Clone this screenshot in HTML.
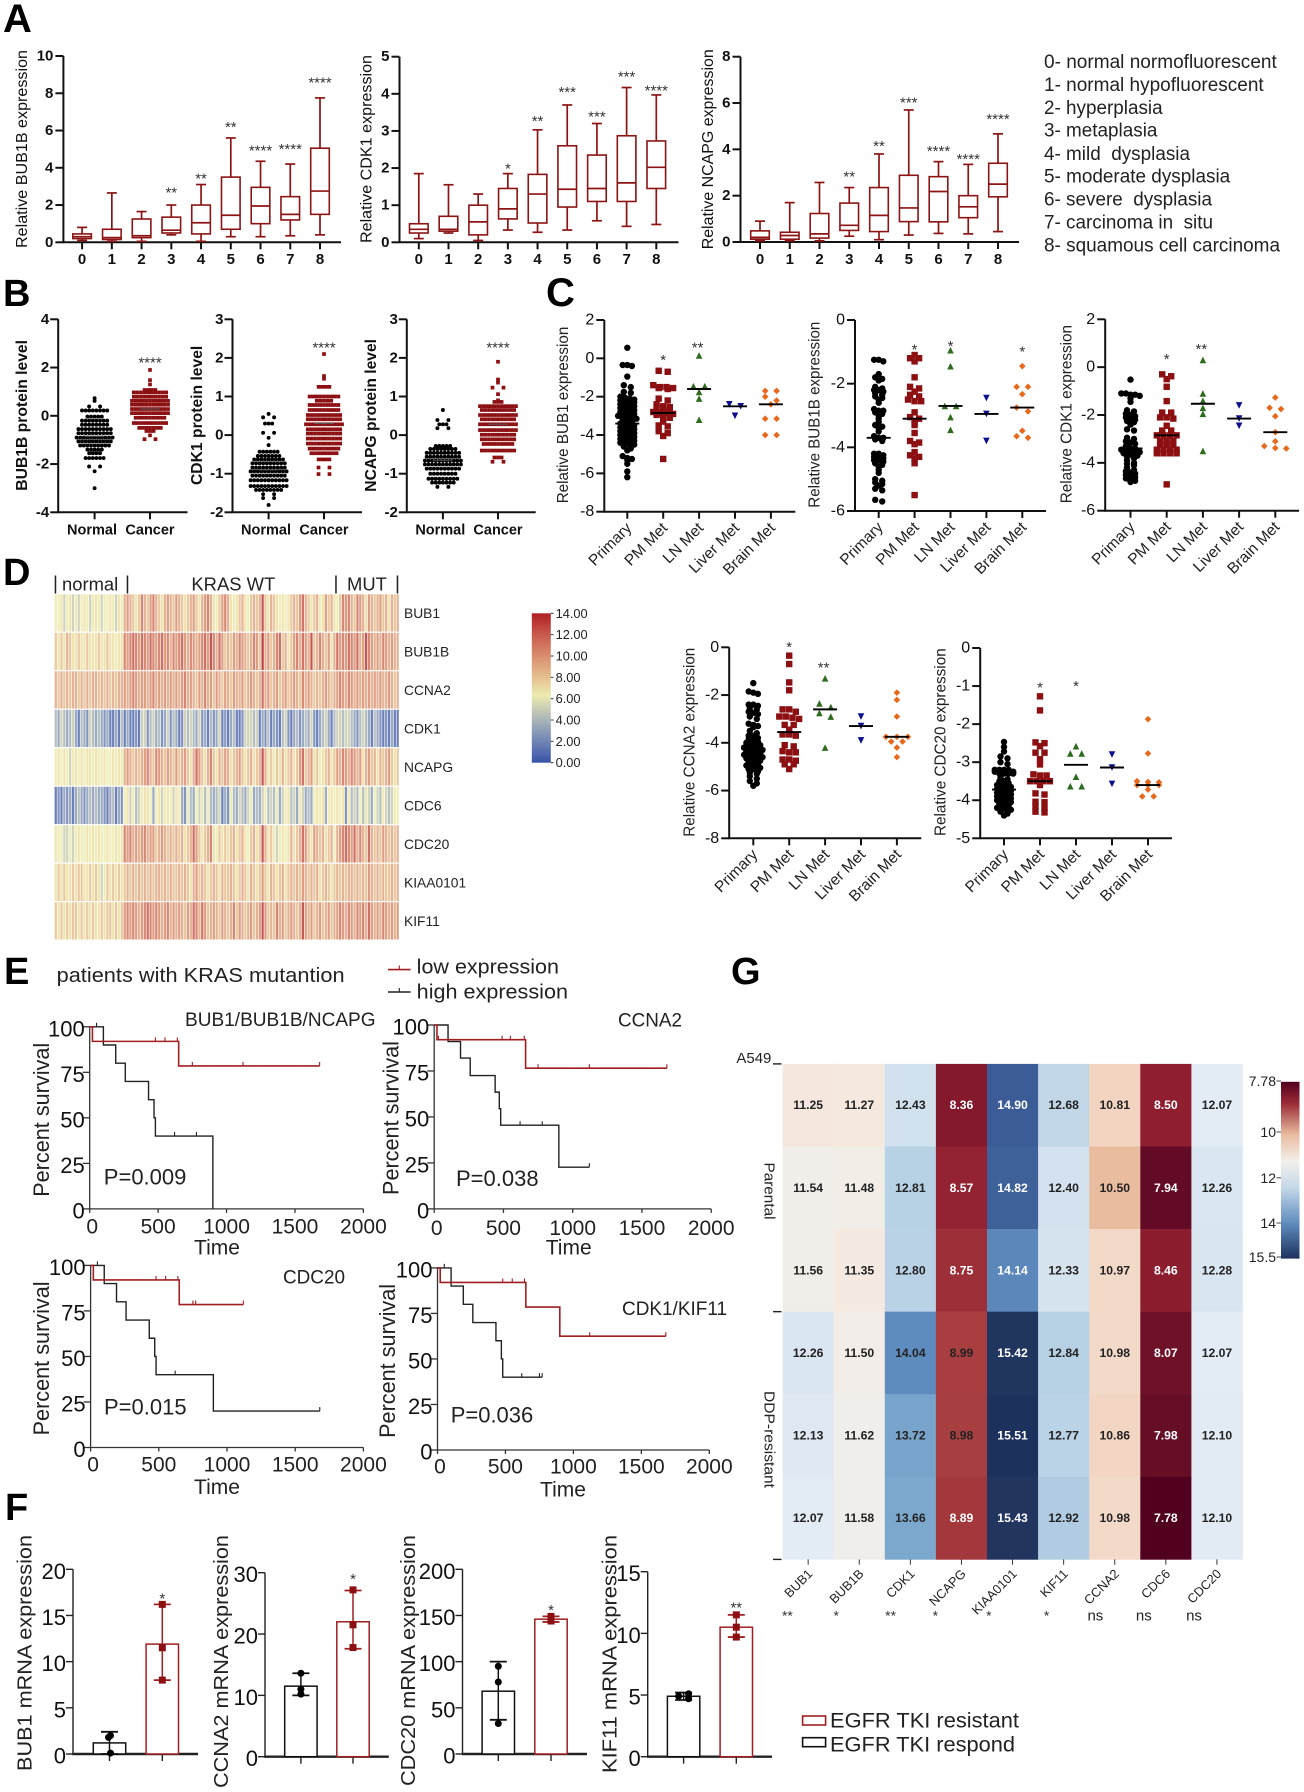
<!DOCTYPE html>
<html lang="en">
<head>
<meta charset="utf-8">
<title>Multi-panel expression figure</title>
<style>
html,body{margin:0;padding:0;background:#fff;}
svg{display:block;}
text{font-family:"Liberation Sans",Arial,sans-serif;white-space:pre;}
</style>
</head>
<body>
<svg id="figure" xmlns="http://www.w3.org/2000/svg" width="1304" height="1792" viewBox="0 0 1304 1792">
<defs>
<linearGradient id="gradD" x1="0" y1="0" x2="0" y2="1">
<stop offset="0" stop-color="#b11f24"/><stop offset="0.143" stop-color="#c75a4c"/><stop offset="0.286" stop-color="#d98e6e"/><stop offset="0.429" stop-color="#e5c08f"/><stop offset="0.55" stop-color="#ecebb0"/><stop offset="0.714" stop-color="#a9b4b8"/><stop offset="0.857" stop-color="#7085b4"/><stop offset="1" stop-color="#3752a8"/>
</linearGradient>
<linearGradient id="gradG" x1="0" y1="0" x2="0" y2="1">
<stop offset="0" stop-color="#52001f"/><stop offset="0.12" stop-color="#9a2a35"/><stop offset="0.3" stop-color="#e9bca0"/><stop offset="0.45" stop-color="#f3f0ec"/><stop offset="0.6" stop-color="#c4d8e8"/><stop offset="0.8" stop-color="#5f8cbe"/><stop offset="1" stop-color="#1d315d"/>
</linearGradient>
</defs>
<rect x="0" y="0" width="1304" height="1792" fill="#fff"/>
<text x="3" y="32" font-size="40" font-weight="bold">A</text>
<text x="3" y="306" font-size="38" font-weight="bold">B</text>
<text x="546" y="306" font-size="40" font-weight="bold">C</text>
<text x="3" y="585" font-size="38" font-weight="bold">D</text>
<text x="4" y="984" font-size="38" font-weight="bold">E</text>
<text x="5" y="1520" font-size="38" font-weight="bold">F</text>
<text x="731" y="984" font-size="38" font-weight="bold">G</text>
</svg>
<script>
/* ---------- Panel A data ---------- */
const stageCategories=['0','1','2','3','4','5','6','7','8'];
const boxBub1b=[[.1,.2,.3,.45,.8],[.05,.15,.25,.7,2.65],[.05,.25,.35,1.25,1.65],[.4,.5,.65,1.35,2],[.05,.45,1.05,2,3.1],[.3,.7,1.45,3.5,5.6],[.3,1,1.95,2.95,4.35],[.35,1.2,1.5,2.45,4.2],[.4,1.5,2.75,5.05,7.75]];
const boxCdk1=[[.1,.25,.35,.5,1.85],[.25,.3,.35,.7,1.55],[.05,.2,.55,1,1.3],[.33,.63,.9,1.45,1.85],[.27,.52,1.3,1.83,3.03],[.33,.95,1.43,2.6,3.7],[.58,1.1,1.45,2.35,3.2],[.43,1.1,1.6,2.87,4.17],[.48,1.45,2.02,2.73,3.97]];
const boxNcapg=[[.05,.12,.2,.48,.9],[.05,.12,.28,.42,1.7],[.05,.17,.35,1.23,2.57],[.25,.5,.72,1.68,2.35],[.1,.45,1.15,2.35,3.8],[.3,.88,1.47,2.88,5.7],[.37,.87,2.18,2.82,3.47],[.35,1.05,1.52,2,3.35],[.45,1.95,2.5,3.4,4.67]];
const starsBub1bLevel=[null,null,null,2.86,3.6,6.35,5.1,5.17,8.76];
const starsBub1bText=['','','','**','**','**','****','****','****'];
const starsCdk1Level=[null,null,null,2.08,3.36,4.13,3.47,4.55,4.18];
const starsCdk1Text=['','','','*','**','***','***','***','****'];
const starsNcapgLevel=[null,null,null,2.97,4.29,6.17,4.07,3.73,5.44];
const starsNcapgText=['','','','**','**','***','****','****','****'];
const stageLegend=['0- normal normofluorescent','1- normal hypofluorescent','2- hyperplasia','3- metaplasia','4- mild  dysplasia','5- moderate dysplasia','6- severe  dysplasia','7- carcinoma in  situ','8- squamous cell carcinoma'];

/* ---------- Panel B data ---------- */
const proteinCategories=['Normal','Cancer'];
const b1Normal=[.73,.62,.39,.39,.22,.22,.22,.22,.22,.22,.22,.22,-.03,-.03,-.03,-.03,-.03,-.2,-.2,-.2,-.2,-.2,-.2,-.2,-.2,-.37,-.37,-.37,-.37,-.37,-.37,-.37,-.37,-.55,-.55,-.55,-.55,-.55,-.55,-.55,-.55,-.55,-.55,-.72,-.72,-.72,-.72,-.72,-.72,-.72,-.72,-.72,-.72,-.9,-.9,-.9,-.9,-.9,-.9,-.9,-.9,-.9,-.9,-.9,-1.06,-1.06,-1.06,-1.06,-1.06,-1.06,-1.06,-1.06,-1.06,-1.06,-1.23,-1.23,-1.23,-1.23,-1.23,-1.23,-1.23,-1.23,-1.23,-1.4,-1.4,-1.4,-1.4,-1.4,-1.55,-1.55,-1.55,-1.55,-1.75,-1.75,-1.75,-1.75,-1.75,-1.75,-2.1,-2.1,-2.3,-3];
const b1Cancer=[1.9,1.48,1.3,1.07,1.07,1.07,1.07,.97,.97,.97,.97,.97,.97,.97,.97,.97,.97,.79,.79,.79,.79,.79,.79,.79,.79,.79,.79,.62,.62,.62,.62,.62,.62,.62,.62,.62,.62,.62,.46,.46,.46,.46,.46,.46,.46,.46,.46,.46,.46,.28,.28,.28,.28,.28,.28,.28,.28,.28,.28,.28,.11,.11,.11,.11,.11,.11,.11,.11,.11,.11,.11,-.08,-.08,-.08,-.08,-.08,-.08,-.08,-.08,-.08,-.3,-.3,-.3,-.3,-.3,-.3,-.3,-.3,-.3,-.3,-.5,-.5,-.5,-.5,-.5,-.5,-.5,-.63,-.63,-.63,-.81,-.97,-.97];
const b2Normal=[.55,.46,.46,.3,.3,.3,.06,.06,-.07,-.26,-.43,-.43,-.43,-.43,-.43,-.43,-.54,-.54,-.54,-.54,-.54,-.54,-.54,-.63,-.63,-.63,-.63,-.63,-.63,-.63,-.63,-.63,-.73,-.73,-.73,-.73,-.73,-.73,-.73,-.73,-.73,-.73,-.84,-.84,-.84,-.84,-.84,-.84,-.84,-.84,-.84,-.84,-.94,-.94,-.94,-.94,-.94,-.94,-.94,-.94,-.94,-.94,-.94,-1.05,-1.05,-1.05,-1.05,-1.05,-1.05,-1.05,-1.05,-1.05,-1.05,-1.17,-1.17,-1.17,-1.17,-1.17,-1.17,-1.17,-1.17,-1.17,-1.17,-1.17,-1.32,-1.32,-1.32,-1.32,-1.32,-1.32,-1.32,-1.32,-1.32,-1.32,-1.32,-1.42,-1.42,-1.42,-1.42,-1.42,-1.42,-1.42,-1.42,-1.53,-1.53,-1.63,-1.63,-1.81];
const b2Cancer=[2.1,1.53,1.46,1.25,1.25,1.25,1.25,1,1,1,1,1,1,1,1,1,.89,.89,.89,.89,.89,.78,.78,.78,.78,.78,.78,.78,.78,.78,.65,.65,.65,.65,.65,.65,.65,.65,.65,.52,.52,.52,.52,.52,.52,.52,.52,.52,.52,.41,.41,.41,.41,.41,.41,.41,.41,.41,.41,.28,.28,.28,.28,.28,.28,.28,.28,.28,.28,.28,.15,.15,.15,.15,.15,.15,.15,.15,.15,.15,.04,.04,.04,.04,.04,.04,.04,.04,.04,.04,-.09,-.09,-.09,-.09,-.09,-.09,-.09,-.09,-.09,-.09,-.22,-.22,-.22,-.22,-.22,-.22,-.22,-.22,-.22,-.22,-.35,-.35,-.35,-.35,-.35,-.35,-.35,-.35,-.35,-.47,-.47,-.47,-.47,-.47,-.47,-.47,-.47,-.63,-.63,-.63,-.63,-.84,-.84,-1.01,-1.01];
const b3Normal=[.65,.39,.39,.28,.28,.28,.18,.18,-.28,-.28,-.28,-.28,-.28,-.36,-.36,-.36,-.36,-.36,-.36,-.36,-.36,-.46,-.46,-.46,-.46,-.46,-.46,-.46,-.46,-.46,-.46,-.56,-.56,-.56,-.56,-.56,-.56,-.56,-.56,-.56,-.56,-.66,-.66,-.66,-.66,-.66,-.66,-.66,-.66,-.66,-.66,-.66,-.76,-.76,-.76,-.76,-.76,-.76,-.76,-.76,-.76,-.76,-.76,-.87,-.87,-.87,-.87,-.87,-.87,-.87,-.87,-.87,-.87,-1,-1,-1,-1,-1,-1,-1,-1,-1.13,-1.13,-1.13,-1.13,-1.13,-1.13,-1.13,-1.13,-1.13,-1.23,-1.23,-1.23,-1.23,-1.23,-1.23,-1.23,-1.34,-1.34];
const b3Cancer=[1.9,1.44,1.36,1.23,1.23,1.06,.9,.86,.86,.86,.75,.75,.75,.75,.75,.75,.75,.75,.75,.75,.75,.65,.65,.65,.65,.65,.65,.65,.65,.65,.65,.52,.52,.52,.52,.52,.52,.52,.52,.52,.52,.52,.41,.41,.41,.41,.41,.41,.41,.41,.41,.41,.28,.28,.28,.28,.28,.28,.28,.28,.28,.28,.28,.13,.13,.13,.13,.13,.13,.13,.13,.13,.13,.13,.01,.01,.01,.01,.01,.01,.01,.01,.01,.01,-.11,-.11,-.11,-.11,-.11,-.11,-.11,-.11,-.11,-.11,-.23,-.23,-.23,-.23,-.23,-.23,-.23,-.23,-.23,-.4,-.4,-.4,-.4,-.4,-.4,-.4,-.4,-.4,-.4,-.58,-.58,-.58,-.69,-.69];
const b1Medians=[-.85,.28];
const b2Medians=[-.9,.3];
const b3Medians=[-.65,.28];

/* ---------- Panel C data ---------- */
const metCategories=['Primary','PM Met','LN Met','Liver Met','Brain Met'];
const c1Primary=[.55,-.35,-.35,-.4,-.95,-1.4,-1.5,-1.75,-1.8,-2,-2.05,-2.1,-2.15,-2.2,-2.2,-2.25,-2.3,-2.4,-2.4,-2.5,-2.5,-2.6,-2.6,-2.7,-2.7,-2.8,-2.8,-2.9,-2.9,-3,-3,-3.05,-3.1,-3.15,-3.2,-3.3,-3.3,-3.4,-3.4,-3.5,-3.5,-3.6,-3.6,-3.7,-3.7,-3.8,-3.8,-3.9,-3.9,-4,-4,-4.1,-4.1,-4.2,-4.2,-4.3,-4.3,-4.4,-4.4,-4.5,-4.5,-4.6,-4.7,-4.8,-5.1,-5.2,-5.25,-5.3,-5.5,-5.9,-6.2];
const c1Pm=[-.65,-.7,-1.4,-1.5,-1.5,-1.55,-1.55,-1.6,-2.1,-2.2,-2.4,-2.5,-2.55,-2.6,-2.7,-2.75,-2.8,-2.85,-2.85,-2.9,-2.95,-3,-3.1,-3.3,-3.5,-3.55,-3.8,-3.9,-4.05,-5.25];
const c1Ln=[.15,-1.45,-1.45,-1.75,-2.1,-3.2];
const c1Liver=[-2.4,-2.5,-3];
const c1Brain=[-1.7,-1.7,-2,-2.2,-2.4,-3.15,-3.15,-4,-4];
const c1Medians=[-3.4,-2.85,-1.6,-2.5,-2.4];
const c1StarLevel=[null,.07,.73,null,null];
const c1StarText=['','*','**','',''];
const c2Primary=[-1.25,-1.25,-1.3,-1.7,-1.8,-1.85,-1.9,-2.1,-2.15,-2.2,-2.2,-2.25,-2.3,-2.35,-2.4,-2.45,-2.5,-2.6,-2.8,-2.85,-2.85,-2.9,-2.95,-3,-3.1,-3.2,-3.3,-3.35,-3.4,-3.5,-3.65,-3.7,-3.7,-3.75,-3.8,-4.2,-4.2,-4.25,-4.3,-4.3,-4.35,-4.4,-4.4,-4.45,-4.5,-4.55,-4.6,-4.7,-4.8,-5,-5.05,-5.1,-5.15,-5.2,-5.3,-5.35,-5.65,-5.7];
const c2Pm=[-1.1,-1.2,-1.2,-1.3,-1.8,-2.1,-2.15,-2.25,-2.35,-2.4,-2.5,-2.55,-2.55,-2.9,-3.05,-3.1,-3.2,-3.3,-3.55,-3.8,-3.85,-3.9,-4.15,-4.25,-4.3,-4.35,-4.5,-5.5];
const c2Ln=[-.95,-1.45,-2.7,-2.7,-3.05,-3.45];
const c2Liver=[-2.45,-2.95,-3.8];
const c2Brain=[-1.45,-2.1,-2.1,-2.33,-2.75,-2.87,-3.48,-3.65,-3.7];
const c2Medians=[-3.7,-3.1,-2.7,-2.95,-2.75];
const c2StarLevel=[null,-.82,-.71,null,-.88];
const c2StarText=['','*','*','','*'];
const c3Primary=[-.52,-1.1,-1.1,-1.15,-1.15,-1.2,-1.3,-1.45,-1.8,-1.85,-1.95,-2,-2.05,-2.1,-2.15,-2.2,-2.25,-2.3,-2.4,-2.6,-2.65,-2.95,-3,-3.1,-3.15,-3.2,-3.3,-3.4,-3.4,-3.45,-3.45,-3.5,-3.5,-3.55,-3.6,-3.65,-3.7,-3.7,-3.75,-3.8,-3.9,-4,-4.05,-4.1,-4.2,-4.3,-4.35,-4.4,-4.45,-4.5,-4.55,-4.6,-4.65,-4.7,-4.75,-4.8];
const c3Pm=[-.3,-.38,-.5,-.82,-1.42,-1.9,-1.9,-2.1,-2.1,-2.15,-2.45,-2.65,-2.65,-2.85,-2.85,-2.85,-2.85,-3.1,-3.1,-3.1,-3.25,-3.25,-3.25,-3.45,-3.45,-3.45,-3.45,-3.6,-3.6,-3.6,-3.6,-4.9];
const c3Ln=[.3,-1.1,-1.4,-1.7,-1.95,-3.5];
const c3Liver=[-1.6,-2.15,-2.45];
const c3Brain=[-1.27,-1.7,-1.75,-2.05,-2.72,-3.1,-3.3,-3.38,-3.4];
const c3Medians=[-3.4,-2.85,-1.53,-2.15,-2.72];
const c3StarLevel=[null,.47,.9,null,null];
const c3StarText=['','*','**','',''];
const c4Primary=[-1.5,-1.85,-1.9,-1.95,-2.4,-2.4,-2.45,-2.55,-2.6,-2.7,-2.75,-2.8,-2.9,-3,-3.2,-3.25,-3.3,-3.35,-3.5,-3.6,-3.7,-3.7,-3.8,-3.85,-3.9,-3.95,-4,-4.05,-4.1,-4.1,-4.2,-4.2,-4.25,-4.3,-4.3,-4.35,-4.4,-4.4,-4.45,-4.5,-4.5,-4.55,-4.6,-4.6,-4.65,-4.7,-4.7,-4.75,-4.8,-4.85,-4.9,-4.95,-5,-5,-5.05,-5.1,-5.1,-5.2,-5.25,-5.3,-5.4,-5.5,-5.6,-5.7,-5.8];
const c4Pm=[-.35,-.7,-1.47,-1.8,-2.6,-2.6,-2.7,-2.9,-2.9,-2.95,-3,-3.25,-3.25,-3.45,-3.65,-3.65,-3.7,-4.1,-4.15,-4.35,-4.4,-4.4,-4.7,-4.7,-4.75,-4.9,-4.9,-5.1];
const c4Ln=[-1.3,-2.35,-2.5,-2.75,-2.9,-4.2];
const c4Liver=[-2.9,-3.3,-3.9];
const c4Brain=[-1.9,-2.2,-2.9,-3.75,-3.75,-3.75,-3.95,-3.95,-4.2,-4.6];
const c4Medians=[-4.25,-3.55,-2.6,-3.3,-3.75];
const c4StarLevel=[null,.14,-.7,null,null];
const c4StarText=['','*','**','',''];
const c5Primary=[-2.47,-2.6,-2.72,-2.85,-2.9,-3,-3.05,-3.2,-3.2,-3.2,-3.2,-3.25,-3.25,-3.3,-3.3,-3.3,-3.3,-3.4,-3.45,-3.5,-3.5,-3.55,-3.6,-3.6,-3.65,-3.65,-3.7,-3.7,-3.75,-3.75,-3.8,-3.8,-3.85,-3.85,-3.9,-3.9,-3.95,-3.95,-4,-4,-4.05,-4.05,-4.1,-4.1,-4.15,-4.2,-4.2,-4.25,-4.25,-4.3,-4.35,-4.4];
const c5Pm=[-1.27,-1.64,-2.48,-2.5,-2.58,-2.75,-2.75,-2.92,-3.06,-3.32,-3.35,-3.35,-3.5,-3.5,-3.5,-3.5,-3.6,-3.82,-3.85,-4.04,-4.05,-4.17,-4.2,-4.3,-4.32];
const c5Ln=[-2.58,-2.77,-2.77,-3.38,-3.63,-3.63];
const c5Liver=[-2.8,-3.14,-3.57];
const c5Brain=[-1.87,-2.77,-3.5,-3.52,-3.53,-3.6,-3.6,-3.6,-3.72,-3.9,-3.9];
const c5Medians=[-3.72,-3.5,-3.07,-3.14,-3.6];
const c5StarLevel=[null,-.95,-.91,null,null];
const c5StarText=['','*','*','',''];

/* ---------- Panel D data ---------- */
const kiqGenes=['BUB1','BUB1B','CCNA2','CDK1','NCAPG','CDC6','CDC20','KIAA0101','KIF11'];
const rowBub1=[6,6,7,5,6,7,5,6,5,6,7,6,5,6,7,6,5,6,6,7,6,5,7,6,9,10,9,8,7,8,11,9,8,10,11,9,8,7,9,10,9,8,10,9,8,7,8,9,10,8,7,9,10,11,9,7,6,8,10,11,9,7,6,7,8,9,7,6,8,9,8,9,13,8,7,9,8,7,6,7,6,7,8,9,8,10,12,9,8,7,8,9,6,7,10,8,9,7,6,8,11,10,11,9,8,11,10,9,7,10,9,8,9,10,8,9,7,9,8,9];
const rowBub1b=[8,7,8,7,9,8,7,7,8,7,7,8,7,7,7,8,7,7,8,7,7,6,7,7,11,10,11,12,11,10,12,11,10,12,11,10,11,12,10,11,9,11,10,11,12,10,9,11,10,9,10,11,12,10,13,11,9,12,10,8,9,8,10,9,11,10,9,8,9,11,10,8,14,9,10,8,9,11,12,8,9,7,8,10,11,9,12,10,9,13,8,9,11,9,8,10,7,9,12,10,11,10,12,11,10,12,9,10,13,11,10,9,10,9,11,10,9,10,9,9];
const rowCcna2=[9,8,9,8,9,8,9,9,8,9,8,9,8,9,9,8,9,8,9,8,9,8,9,9,10,9,10,11,10,9,10,10,9,10,11,9,10,9,10,9,10,9,10,9,10,11,9,10,9,8,10,9,11,9,10,8,10,9,8,10,9,8,10,9,9,10,8,9,10,9,8,9,12,9,10,8,9,10,8,9,10,8,9,10,9,8,11,9,10,9,8,9,8,9,10,9,8,9,10,11,10,9,11,10,9,10,9,10,9,10,9,10,9,10,9,9,10,9,8,9];
const rowCdk1=[4,3,5,4,3,4,5,3,1,4,3,2,5,4,3,4,3,2,3,1,1,3,1,4,1,3,1,1,2,1,5,5,2,4,5,3,4,2,3,5,2,4,3,1,2,5,4,5,4,3,5,2,3,1,4,2,3,5,1,2,1,3,4,1,1,2,5,5,5,4,5,1,3,2,4,1,3,2,1,4,5,2,1,3,4,2,3,4,3,5,2,1,3,4,5,3,1,4,5,5,4,5,5,4,3,2,4,5,4,3,1,4,3,2,1,2,1,3,1,1];
const rowNcapg=[6,7,6,7,6,5,6,7,6,7,6,7,7,6,7,6,6,7,6,6,7,6,7,6,9,10,9,8,9,8,9,10,11,9,8,11,10,9,8,10,9,8,10,8,9,10,8,7,9,12,10,8,7,9,11,8,7,9,8,10,9,7,8,9,10,8,7,8,9,7,8,9,13,9,7,8,6,8,7,9,7,8,9,7,8,10,12,8,9,10,7,8,6,7,8,9,7,8,10,9,11,10,9,11,10,9,10,7,9,10,8,9,7,9,8,9,10,8,7,8];
const rowCdc6=[1,2,1,3,2,3,1,3,4,3,2,3,4,3,4,3,3,2,1,3,4,1,3,2,6,7,5,6,4,5,6,7,7,6,3,6,7,5,6,7,6,5,7,6,3,2,6,4,3,6,5,7,4,6,4,3,4,5,1,3,2,6,4,3,5,4,3,5,6,3,4,3,5,6,4,5,4,6,3,5,6,7,4,5,3,6,5,3,4,3,6,7,6,7,3,6,7,6,7,6,7,2,6,4,5,4,6,4,7,5,3,6,5,4,6,5,4,5,6,6];
const rowCdc20=[7,6,6,5,5,6,5,6,7,6,6,7,6,7,6,7,6,6,7,6,6,7,6,7,11,10,11,9,10,9,10,11,9,10,10,8,9,10,9,8,9,8,9,8,9,7,8,9,12,10,8,7,8,9,11,7,6,8,7,8,7,8,9,7,8,9,7,6,8,9,7,8,13,9,7,8,6,5,6,7,6,7,9,7,8,9,12,10,8,7,10,9,8,9,7,8,9,6,9,10,11,12,11,10,12,9,11,9,8,12,9,8,9,8,10,9,8,9,8,9];
const rowKiaa0101=[7,8,7,8,7,7,8,7,8,8,7,7,8,7,8,7,5,6,8,7,8,7,8,7,8,9,8,9,8,9,8,9,8,9,8,9,9,8,9,8,9,8,8,9,8,9,8,7,9,10,8,9,8,7,8,9,8,7,9,8,8,9,8,7,8,9,8,7,9,8,7,8,10,8,7,9,8,7,8,9,7,8,9,8,9,8,10,9,8,9,8,9,7,8,9,8,7,8,9,8,9,8,9,9,8,9,8,9,8,10,9,8,9,8,9,8,8,9,8,9];
const rowKif11=[8,7,8,7,8,7,8,8,7,8,7,8,7,8,7,7,8,7,8,8,7,8,7,8,10,11,10,11,10,9,10,11,12,11,10,11,10,9,10,11,9,10,9,10,9,8,10,9,12,11,9,12,10,8,9,10,9,8,10,9,8,9,11,8,10,9,8,9,10,8,9,10,13,10,8,9,8,11,9,10,8,9,10,9,8,9,13,10,9,10,8,9,10,8,9,10,8,9,10,11,10,9,11,10,9,11,10,11,9,12,10,9,10,9,11,10,9,10,9,10];
const colorbarDTicks=['14.00','12.00','10.00','8.00','6.00','4.00','2.00','0.00'];

/* ---------- Panel E data ---------- */
const e1LowTimes=[20,650],e1LowSurvival=[92,78.5],e1LowEnd=[1680],e1LowCensor=[480,550,640,750,1120,1680];
const e1HighTimes=[100,190,260,430,470,480,900],e1HighSurvival=[90,80,70,60,50,40,0],e1HighEnd=[900],e1HighCensor=[50,620,780];
const e2LowTimes=[20,660],e2LowSurvival=[92,76.5],e2LowEnd=[1680],e2LowCensor=[30,490,550,650,750,1120,1680];
const e2HighTimes=[100,190,260,440,470,480,900],e2HighSurvival=[91,82,72.5,63.5,54.5,45.5,22.7],e2HighEnd=[1120],e2HighCensor=[620,780,1120];
const e3LowTimes=[20,650],e3LowSurvival=[92,78.5],e3LowEnd=[1120],e3LowCensor=[480,550,640,750,770,1120];
const e3HighTimes=[100,190,260,430,470,480,900],e3HighSurvival=[90,80,70,60,50,40,20],e3HighEnd=[1680],e3HighCensor=[50,620,1680];
const e4LowTimes=[20,650,900],e4LowSurvival=[92,78.5,62.5],e4LowEnd=[1680],e4LowCensor=[480,550,640,1120,1680];
const e4HighTimes=[100,190,260,430,470,480],e4HighSurvival=[90,80,70,60,50,40],e4HighEnd=[770],e4HighCensor=[50,620,750,770];
const survivalTicks=[0,25,50,75,100];
const timeTicks=[0,500,1000,1500,2000];

/* ---------- Panel F data ---------- */
const f1Means=[1.2,11.9],f1Low=[0,8],f1High=[2.4,16.2],f1Ticks=[0,5,10,15,20];
const f1RespondPoints=[2,1.8,.1],f1ResistantPoints=[16.2,11.5,8];
const f2Means=[11.5,22],f2Low=[10,17.6],f2High=[13.6,27.1],f2Ticks=[0,10,20,30];
const f2RespondPoints=[13.6,11,10.2],f2ResistantPoints=[27.2,21.5,17.8];
const f3Means=[68,146],f3Low=[37,143],f3High=[100,149],f3Ticks=[0,50,100,150,200];
const f3RespondPoints=[95,78,33],f3ResistantPoints=[149,148,144];
const f4Means=[4.9,10.5],f4Low=[4.6,9.7],f4High=[5.2,11.5],f4Ticks=[0,5,10,15];
const f4RespondPoints=[5.1,4.9,4.7],f4ResistantPoints=[11.5,10.5,9.7];

/* ---------- Panel G data ---------- */
const gGenes=['BUB1','BUB1B','CDK1','NCAPG','KIAA0101','KIF11','CCNA2','CDC6','CDC20'];
const gSignificance=['**','*','**','*','*','*','ns','ns','ns'];
const gParental1=[11.25,11.27,12.43,8.36,14.90,12.68,10.81,8.50,12.07];
const gParental2=[11.54,11.48,12.81,8.57,14.82,12.40,10.50,7.94,12.26];
const gParental3=[11.56,11.35,12.80,8.75,14.14,12.33,10.97,8.46,12.28];
const gResistant1=[12.26,11.50,14.04,8.99,15.42,12.84,10.98,8.07,12.07];
const gResistant2=[12.13,11.62,13.72,8.98,15.51,12.77,10.86,7.98,12.10];
const gResistant3=[12.07,11.58,13.66,8.89,15.43,12.92,10.98,7.78,12.10];

/* ---------- helpers ---------- */
const NS='http://www.w3.org/2000/svg';
const fig=document.getElementById('figure');
function linear(d0,d1,r0,r1){return v=>r0+(v-d0)*(r1-r0)/(d1-d0);}
function mk(parent,tag,attrs){const e=document.createElementNS(NS,tag);for(const k in attrs)e.setAttribute(k,attrs[k]);parent.appendChild(e);return e;}
function seg(p,x1,y1,x2,y2,stroke,w){return mk(p,'line',{x1,y1,x2,y2,stroke,'stroke-width':w});}
function txt(p,s,x,y,o){o=o||{};const a={x,y,'font-size':o.size||14,'text-anchor':o.anchor||'start','dominant-baseline':o.base||'central',fill:o.fill||'#111'};
 if(o.weight)a['font-weight']=o.weight;
 if(o.rot!==undefined)a.transform='rotate('+o.rot+' '+x+' '+y+')';
 if(o.len){a.textLength=o.len;a.lengthAdjust='spacingAndGlyphs';}
 const e=mk(p,'text',a);e.textContent=s;return e;}
function group(name){const g=mk(fig,'g',{});

return g;}
function axes(g,c,yTicks,xPos,yScale){
 const ya=seg(g,c.x0,c.yTop,c.x0,c.yBot,c.color||'#111',c.w||2);
 
 
 const xa=seg(g,c.x0-(c.w||2)/2,c.yBot,c.xEnd,c.yBot,c.color||'#111',c.xw||c.w||2);
 
 
 yTicks.forEach(v=>{
  const t=seg(g,c.x0-c.tick,yScale(v),c.x0,yScale(v),c.color||'#111',c.w||2);
  
  
  const l=txt(g,String(v),c.x0-c.tick-c.gap,yScale(v)+(c.labelDy||0),{size:c.tickSize,anchor:'end',weight:c.tickWeight});
  
  
 });
 xPos.forEach(x=>{
  const t=seg(g,x,c.yBot,x,c.yBot+c.xTick,c.color||'#111',c.w||2);
  
  
 });
}
function yTitle(g,s,c,o){const t=txt(g,s,c.titleX,(c.titleY0+c.titleY1)/2,Object.assign({anchor:'middle',rot:-90,len:c.titleY1-c.titleY0},o));
 
 }
function star(g,s,x,y,size){const t=txt(g,s,x,y+size*0.55,{size:size,anchor:'middle',base:'auto',fill:'#333'});
 
 }
function marker(g,kind,x,y,s,fill){
 let e;
 if(kind==='circle')e=mk(g,'circle',{cx:x,cy:y,r:s/2,fill});
 else if(kind==='square')e=mk(g,'rect',{x:x-s/2,y:y-s/2,width:s,height:s,fill});
 else if(kind==='up')e=mk(g,'path',{d:'M'+x+' '+(y-s/2)+'L'+(x+s/2)+' '+(y+s/2)+'L'+(x-s/2)+' '+(y+s/2)+'Z',fill});
 else if(kind==='down')e=mk(g,'path',{d:'M'+(x-s/2)+' '+(y-s/2)+'L'+(x+s/2)+' '+(y-s/2)+'L'+x+' '+(y+s/2)+'Z',fill});
 else e=mk(g,'path',{d:'M'+x+' '+(y-s/2)+'L'+(x+s/2)+' '+y+'L'+x+' '+(y+s/2)+'L'+(x-s/2)+' '+y+'Z',fill});
 
 
 return e;
}
function swarmDraw(g,values,cx,yScale,o){
 const sorted=values.slice().sort((a,b)=>b-a);
 const maxRow=o.maxRow||99;
 let row=[],first=null;
 const flush=()=>{const n=row.length;const st=n===2?o.pair:o.step;row.forEach((v,i)=>{marker(g,o.kind,cx+(i-(n-1)/2)*st,yScale(v),o.size,o.fill);});row=[];};
 sorted.forEach(v=>{const y=yScale(v);if(first===null||Math.abs(y-first)>o.rowPx||row.length>=maxRow){flush();first=y;}row.push(v);});
 flush();
}

/* ---------- Panel A ---------- */
function boxChart(name,c,boxes,starLevels,starText,yTicks,title){
 const g=group(name);
 const y=linear(c.d0,c.d1,c.yBot,c.yTop);
 const x=i=>c.first+i*(c.last-c.first)/(stageCategories.length-1);
 axes(g,Object.assign({tick:8,gap:2,xTick:7,tickSize:15,tickWeight:'bold',w:2},c),yTicks,stageCategories.map((_,i)=>x(i)),y);
 yTitle(g,title,c,{size:16});
 stageCategories.forEach((cat,i)=>{
  const l=txt(g,cat,x(i),259.5,{size:15,anchor:'middle',weight:'bold'});
  
  
  const b=boxes[i],col='#8c1414',cap=5,hw=9.3;
  const wh=seg(g,x(i),y(b[0]),x(i),y(b[4]),col,1.7);
  
  
  [b[0],b[4]].forEach(v=>{
   const k=seg(g,x(i)-cap,y(v),x(i)+cap,y(v),col,1.7);
   
   
  });
  const r=mk(g,'rect',{x:x(i)-hw,y:y(b[3]),width:2*hw,height:y(b[1])-y(b[3]),fill:'#fff',stroke:col,'stroke-width':1.6});
  
  
  const m=seg(g,x(i)-hw,y(b[2]),x(i)+hw,y(b[2]),col,1.7);
  
  
  if(starLevels[i]!==null)star(g,starText[i],x(i),y(starLevels[i]),15);
 });
}
boxChart('chart-bub1b-stages',{x0:63.4,xEnd:341,yTop:56,yBot:242.3,d0:0,d1:10,first:82.1,last:320,titleX:22.3,titleY0:50,titleY1:248},boxBub1b,starsBub1bLevel,starsBub1bText,[0,2,4,6,8,10],'Relative BUB1B expression');
boxChart('chart-cdk1-stages',{x0:399.5,xEnd:678.5,yTop:56.7,yBot:242.3,d0:0,d1:5,first:418.8,last:656.3,titleX:367,titleY0:55,titleY1:243},boxCdk1,starsCdk1Level,starsCdk1Text,[0,1,2,3,4,5],'Relative CDK1 expression');
boxChart('chart-ncapg-stages',{x0:740.5,xEnd:1019,yTop:56.7,yBot:242,d0:0,d1:8,first:760,last:998,titleX:708.6,titleY0:49.3,titleY1:249.3},boxNcapg,starsNcapgLevel,starsNcapgText,[0,2,4,6,8],'Relative NCAPG expression');
(function(){
 const g=group('stage-legend');
 const ys=[62.7,85.6,108.5,131,154.5,177,200,223,246];
 const lens=[232.8,219.7,118.6,113.4,146,186.2,168,169,236];
 stageLegend.forEach((s,i)=>{
  const t=txt(g,s,1044,ys[i],{size:19,fill:'#222',len:lens[i]});
  
  
 });
})();

/* ---------- Panel B ---------- */
function proteinChart(name,c,normal,cancer,medians,ticks,title,starLevel){
 const g=group(name);
 const y=linear(c.d0,c.d1,c.yBot,c.yTop);
 axes(g,Object.assign({tick:8,gap:1,xTick:7,tickSize:15,tickWeight:'bold',w:2},c),ticks,[c.xa,c.xb],y);
 yTitle(g,title,c,{size:16,weight:'bold'});
 proteinCategories.forEach((cat,i)=>{
  const l=txt(g,cat,i?c.xb:c.xa-2.6,530.7,{size:14.5,anchor:'middle',weight:'bold'});
  
  
 });
 swarmDraw(g,normal,c.xa,y,{kind:'circle',size:3.9,fill:'#000',step:3.6,pair:11,rowPx:1});
 swarmDraw(g,cancer,c.xb,y,{kind:'square',size:3.7,fill:'#8c0f12',step:3.6,pair:11,rowPx:1});
 [c.xa,c.xb].forEach((x,i)=>{
  const m=seg(g,x-10,y(medians[i]),x+10,y(medians[i]),'#555',1);
  
  
 });
 star(g,'****',c.xb,y(starLevel),15);
}
proteinChart('chart-bub1b-protein',{x0:58.2,xEnd:187.5,yTop:319.3,yBot:512.3,d0:-4,d1:4,xa:94.6,xb:150,titleX:22.5,titleY0:340,titleY1:490.7},b1Normal,b1Cancer,b1Medians,[-4,-2,0,2,4],'BUB1B protein level',2.34);
proteinChart('chart-cdk1-protein',{x0:232.5,xEnd:362,yTop:319.3,yBot:512.3,d0:-2,d1:3,xa:268.6,xb:324,titleX:197.5,titleY0:345.7,titleY1:485},b2Normal,b2Cancer,b2Medians,[-2,-1,0,1,2,3],'CDK1 protein level',2.35);
proteinChart('chart-ncapg-protein',{x0:406.8,xEnd:535.7,yTop:319.3,yBot:512.3,d0:-2,d1:3,xa:442.9,xb:498,titleX:371.4,titleY0:339,titleY1:491.7},b3Normal,b3Cancer,b3Medians,[-2,-1,0,1,2,3],'NCAPG protein level',2.35);

/* ---------- Panel C ---------- */
function metChart(name,c,series,medians,starLevel,starText,ticks,title){
 const g=group(name);
 const y=linear(c.d0,c.d1,c.yBot,c.yTop);
 const x=i=>c.first+i*c.stepX;
 axes(g,Object.assign({tick:8,gap:2,xTick:7,tickSize:16,w:2},c),ticks,metCategories.map((_,i)=>x(i)),y);
 yTitle(g,title,c,{size:16,fill:'#222'});
 const styles=[{kind:'circle',size:6.4,fill:'#000',step:4.6,pair:7,rowPx:3,maxRow:5},{kind:'square',size:6.4,fill:'#8c0f12',step:6.6,pair:9,rowPx:3,maxRow:4},{kind:'up',size:6.6,fill:'#2e6b1e',step:11,pair:11.4,rowPx:5,maxRow:2},{kind:'down',size:6.6,fill:'#0b108f',step:11,pair:11.4,rowPx:3,maxRow:2},{kind:'diamond',size:6.6,fill:'#e8681c',step:11,pair:11.4,rowPx:4,maxRow:3}];
 metCategories.forEach((cat,i)=>{
  const l=txt(g,cat,x(i)+2,c.yBot+14,{size:15.5,anchor:'end',rot:-45,fill:'#222'});
  
  
  swarmDraw(g,series[i],x(i),y,styles[i]);
  const m=seg(g,x(i)-12,y(medians[i]),x(i)+12,y(medians[i]),'#000',1.9);
  
  
  if(starLevel[i]!==null)star(g,starText[i],x(i)-(starText[i]==='**'?1.5:0),y(starLevel[i]),15);
 });
}
metChart('chart-bub1-metastasis',{x0:604.3,xEnd:795.3,yTop:320,yBot:511.7,d0:-8,d1:2,first:627.3,stepX:35.9,titleX:563.7,titleY0:326.7,titleY1:503.3},[c1Primary,c1Pm,c1Ln,c1Liver,c1Brain],c1Medians,c1StarLevel,c1StarText,[-8,-6,-4,-2,0,2],'Relative BUB1 expression');
metChart('chart-bub1b-metastasis',{x0:855,xEnd:1046,yTop:320,yBot:511,d0:-6,d1:0,first:878.7,stepX:35.9,titleX:814.8,titleY0:321.7,titleY1:507.7},[c2Primary,c2Pm,c2Ln,c2Liver,c2Brain],c2Medians,c2StarLevel,c2StarText,[-6,-4,-2,0],'Relative BUB1B expression');
metChart('chart-cdk1-metastasis',{x0:1105.2,xEnd:1299,yTop:319.3,yBot:510.7,d0:-6,d1:2,first:1130.5,stepX:36.2,titleX:1067,titleY0:325,titleY1:503.3},[c3Primary,c3Pm,c3Ln,c3Liver,c3Brain],c3Medians,c3StarLevel,c3StarText,[-6,-4,-2,0,2],'Relative CDK1 expression');
metChart('chart-ccna2-metastasis',{x0:729.2,xEnd:921.3,yTop:647.3,yBot:838.3,d0:-8,d1:0,first:753.3,stepX:35.9,titleX:689.8,titleY0:647.7,titleY1:836.7},[c4Primary,c4Pm,c4Ln,c4Liver,c4Brain],c4Medians,c4StarLevel,c4StarText,[-8,-6,-4,-2,0],'Relative CCNA2 expression');
metChart('chart-cdc20-metastasis',{x0:980.2,xEnd:1172,yTop:648,yBot:838.3,d0:-5,d1:0,first:1004,stepX:36,titleX:941.2,titleY0:648.3,titleY1:836},[c5Primary,c5Pm,c5Ln,c5Liver,c5Brain],c5Medians,c5StarLevel,c5StarText,[-5,-4,-3,-2,-1,0],'Relative CDC20 expression');

/* ---------- Panel D ---------- */
function mixColor(stops,v){
 if(v<=stops[0][0])return stops[0][1];
 for(let i=1;i<stops.length;i++){if(v<=stops[i][0]){const a=stops[i-1],b=stops[i],t=(v-a[0])/(b[0]-a[0]);
  const ca=a[1],cb=b[1];const ch=k=>Math.round(parseInt(ca.substr(k,2),16)*(1-t)+parseInt(cb.substr(k,2),16)*t);
  return 'rgb('+ch(1)+','+ch(3)+','+ch(5)+')';}}
 return stops[stops.length-1][1];
}
const rampD=[[0,'#3752a8'],[2,'#7085b4'],[4,'#a9b4b8'],[5,'#c9cdb0'],[6,'#ecebb0'],[7,'#eedfa4'],[8,'#e5c08f'],[9,'#e0a784'],[10,'#d98e6e'],[12,'#c75a4c'],[14,'#b11f24']];
(function(){
 const g=group('heatmap-kras');
 const rows=[rowBub1,rowBub1b,rowCcna2,rowCdk1,rowNcapg,rowCdc6,rowCdc20,rowKiaa0101,rowKif11];
 const X0=54.6,X1=399.4,Y0=594.3,Y1=940.7,rh=(Y1-Y0)/rows.length;
 rows.forEach((row,r)=>{
  const cw=(X1-X0)/row.length;
  row.forEach((v,c)=>{
   const cell=mk(g,'rect',{x:X0+c*cw,y:Y0+r*rh,width:cw-0.6,height:rh-1.2,fill:mixColor(rampD,v),'fill-opacity':0.86});
   
   
  });
  const l=txt(g,kiqGenes[r],404,Y0+(r+.5)*rh,{size:13.8,fill:'#222'});
  
  
 });
 [['|',53,19],['normal',62,18.4],['|',125,19],['KRAS WT',191.4,18.4],['|',333.5,19],['MUT',347,18.4],['|',395,19]].forEach(h=>{
  const t=txt(g,h[0],h[1],584,{size:h[2],fill:'#222'});
  
  
 });
 const bar=mk(g,'rect',{x:531.8,y:613.3,width:19,height:149.4,fill:'url(#gradD)'});
 
 
 colorbarDTicks.forEach((s,i)=>{
  const y=613.3+i*149.4/(colorbarDTicks.length-1);
  const t=seg(g,550.8,y,553.5,y,'#333',1);
  
  
  const l=txt(g,s,555.6,y,{size:12.8,fill:'#222'});
  
  
 });
})();

/* ---------- Panel E ---------- */
function kmCurve(g,x,y,times,surv,end,censor,color,w){
 let d='M'+x(0)+' '+y(100),cur=100;
 times.forEach((t,i)=>{d+='H'+x(t)+'V'+y(surv[i]);cur=surv[i];});
 d+='H'+x(end[0]);
 const p=mk(g,'path',{d,fill:'none',stroke:color,'stroke-width':w});
 
 
 censor.forEach(t=>{
  let s=100;times.forEach((tt,i)=>{if(t>=tt)s=surv[i];});
  const c=seg(g,x(t),y(s),x(t),y(s)-4,color,1.1);
  
  
 });
}
function kmChart(name,c,low,high,title,p){
 const g=group(name);
 const x=linear(0,2000,c.x0,c.x2000),y=linear(0,100,c.yBot,c.yTop);
 axes(g,{x0:c.x0,xEnd:c.x2000,yTop:c.yTop,yBot:c.yBot,tick:7,gap:-2,xTick:4,tickSize:22,w:1.3,color:'#333',labelDy:2},survivalTicks,timeTicks.map(x),y);
 timeTicks.forEach(v=>{
  const l=txt(g,String(v),Math.max(x(v),c.x0+(v===0?2.5:0)),c.labelY,{size:21,anchor:'middle',fill:'#222'});
  
  
 });
 yTitle(g,'Percent survival',{titleX:c.titleX,titleY0:c.yTop+16,titleY1:c.yTop+170},{size:22,fill:'#222'});
 const tl=txt(g,'Time',c.timeX,c.timeY,{size:21,anchor:'middle',fill:'#222'});
 
 
 kmCurve(g,x,y,high[0],high[1],high[2],high[3],'#222',1.4);
 kmCurve(g,x,y,low[0],low[1],low[2],low[3],'#a01f22',1.6);
 const tt=txt(g,title[0],title[1],title[2],{size:19,len:title[3],fill:'#222'});
 
 
 const pv=txt(g,p[0],p[1],p[2],{size:22,fill:'#222'});
 
 
}
kmChart('chart-survival-bub1-bub1b-ncapg',{x0:89.7,x2000:363.4,yTop:1026.8,yBot:1208.9,labelY:1226.8,titleX:41.5,timeX:217,timeY:1248},[e1LowTimes,e1LowSurvival,e1LowEnd,e1LowCensor],[e1HighTimes,e1HighSurvival,e1HighEnd,e1HighCensor],['BUB1/BUB1B/NCAPG',185,1020.7,190.6],['P=0.009',103.8,1176.8]);
kmChart('chart-survival-ccna2',{x0:434.2,x2000:711.2,yTop:1025,yBot:1208.9,labelY:1228.6,titleX:391,timeX:568.7,timeY:1248},[e2LowTimes,e2LowSurvival,e2LowEnd,e2LowCensor],[e2HighTimes,e2HighSurvival,e2HighEnd,e2HighCensor],['CCNA2',618,1021,64],['P=0.038',456,1178.6]);
kmChart('chart-survival-cdc20',{x0:90.6,x2000:363.4,yTop:1265.4,yBot:1447.5,labelY:1465,titleX:41.5,timeX:217,timeY:1487.5},[e3LowTimes,e3LowSurvival,e3LowEnd,e3LowCensor],[e3HighTimes,e3HighSurvival,e3HighEnd,e3HighCensor],['CDC20',283,1278,62],['P=0.015',104,1407]);
kmChart('chart-survival-cdk1-kif11',{x0:437.5,x2000:709.3,yTop:1267.9,yBot:1450,labelY:1467,titleX:387.5,timeX:563,timeY:1490},[e4LowTimes,e4LowSurvival,e4LowEnd,e4LowCensor],[e4HighTimes,e4HighSurvival,e4HighEnd,e4HighCensor],['CDK1/KIF11',622,1309.6,105],['P=0.036',450.7,1415]);
(function(){
 const g=group('survival-header');
 const h=txt(g,'patients with KRAS mutantion',56.6,975.7,{size:20.5,len:288,fill:'#222'});
 
 
 const a=seg(g,388,969.6,410.6,969.6,'#a01f22',1.6);
 
 
 const a2=seg(g,399.3,969.6,399.3,965.5,'#a01f22',1.1);
 
 
 const t1=txt(g,'low expression',416.7,967,{size:20.5,len:142.3,fill:'#222'});
 
 
 const b=seg(g,388,992,410.6,992,'#222',1.4);
 
 
 const b2=seg(g,399.3,992,399.3,988,'#222',1.1);
 
 
 const t2=txt(g,'high expression',416.7,992,{size:20.5,len:151.3,fill:'#222'});
 
 
})();

/* ---------- Panel F ---------- */
function barChart(name,c,means,low,high,respond,resistant,ticks,title,stars){
 const g=group(name);
 const y=linear(0,c.dMax,c.yBot,c.yTop);
 const xs=[c.xa,c.xb],cols=['#111','#a01f22'];
 axes(g,{x0:c.x0,xEnd:c.xEnd,yTop:c.yTop,yBot:c.yBot,tick:7,gap:0,xTick:7,tickSize:22,w:1.4,xw:2.4,color:'#222',labelDy:2},ticks,xs,y);
 yTitle(g,title,{titleX:c.titleX,titleY0:1535,titleY1:c.titleEnd},{size:20,fill:'#222'});
 xs.forEach((x,i)=>{
  const b=mk(g,'rect',{x:x-16.2,y:y(means[i]),width:32.4,height:c.yBot-y(means[i]),fill:'#fff',stroke:cols[i],'stroke-width':1.5});
  
  
  const e=seg(g,x,y(low[i]),x,y(high[i]),cols[i],1.5);
  
  
  [low[i],high[i]].forEach(v=>{
   const k=seg(g,x-8.5,y(v),x+8.5,y(v),cols[i],1.8);
   
   
  });
 });
 respond.forEach((v,i)=>{marker(g,'circle',c.xa+[1,-1,1][i]*(c.spread||0),y(v),7,'#000');});
 resistant.forEach((v,i)=>{marker(g,'square',c.xb+[0,0,0][i],y(v),7,'#8c0f12');});
 star(g,stars[0],c.xb,stars[1],15);
}
barChart('chart-bub1-mrna',{x0:73,xEnd:198,yTop:1569.3,yBot:1754,dMax:20,xa:109.5,xb:162.3,titleX:25.7,titleEnd:1771,spread:1},f1Means,f1Low,f1High,f1RespondPoints,f1ResistantPoints,f1Ticks,'BUB1 mRNA expression',['*',1595]);
barChart('chart-ccna2-mrna',{x0:265,xEnd:388.8,yTop:1572.7,yBot:1756.7,dMax:30,xa:300.9,xb:353,titleX:221.8,titleEnd:1788},f2Means,f2Low,f2High,f2RespondPoints,f2ResistantPoints,f2Ticks,'CCNA2 mRNA expression',['*',1575.7]);
barChart('chart-cdc20-mrna',{x0:462.5,xEnd:587,yTop:1569.3,yBot:1754,dMax:200,xa:498.3,xb:551,titleX:409,titleEnd:1786},f3Means,f3Low,f3High,f3RespondPoints,f3ResistantPoints,f3Ticks,'CDC20 mRNA expression',['*',1606.7]);
barChart('chart-kif11-mrna',{x0:647.7,xEnd:772,yTop:1571.7,yBot:1756.7,dMax:15,xa:683.6,xb:736.3,titleX:610.5,titleEnd:1773,spread:5},f4Means,f4Low,f4High,f4RespondPoints,f4ResistantPoints,f4Ticks,'KIF11 mRNA expression',['**',1604]);
(function(){
 const g=group('tki-legend');
 const a=mk(g,'rect',{x:802.6,y:1716,width:23,height:9,fill:'#fff',stroke:'#a01f22','stroke-width':1.6});
 
 
 const t1=txt(g,'EGFR TKI resistant',830,1721,{size:21,len:189,fill:'#222'});
 
 
 const b=mk(g,'rect',{x:802.6,y:1737.7,width:23,height:9,fill:'#fff',stroke:'#111','stroke-width':1.6});
 
 
 const t2=txt(g,'EGFR TKI respond',830,1745,{size:21,len:185,fill:'#222'});
 
 
})();

/* ---------- Panel G ---------- */
const rampG=[[7.78,'#52001f'],[8.0,'#690f28'],[8.36,'#84192d'],[8.5,'#8f1f30'],[8.75,'#9c2f38'],[9.0,'#a83f40'],[10,'#d9a084'],[10.5,'#e9bca0'],[10.81,'#f2d4c1'],[10.98,'#f3d9c8'],[11.27,'#f5e8df'],[11.55,'#f1eeea'],[12.07,'#e3ebf4'],[12.4,'#d3e2ee'],[12.8,'#b9d2e5'],[13.7,'#7aa6cc'],[14.04,'#5f8cbe'],[14.14,'#5b87bb'],[14.9,'#3b5c96'],[15.42,'#21365f'],[15.5,'#1d315d']];
(function(){
 const g=group('heatmap-a549');
 const rows=[gParental1,gParental2,gParental3,gResistant1,gResistant2,gResistant3];
 const X0=782.6,X1=1242.5,Y0=1063.9,Y1=1559.4,cw=(X1-X0)/gGenes.length,rh=(Y1-Y0)/rows.length;
 rows.forEach((row,r)=>{row.forEach((v,c)=>{
  const cell=mk(g,'rect',{x:X0+c*cw,y:Y0+r*rh,width:cw+.3,height:rh+.3,fill:mixColor(rampG,v)});
  
  
 });});
 rows.forEach((row,r)=>{row.forEach((v,c)=>{
  const light=v<8.95||v>=14.1;
  const t=txt(g,v.toFixed(2),X0+(c+.5)*cw,Y0+(r+.5)*rh,{size:12.2,weight:'bold',anchor:'middle',fill:light?'#fff':'#222'});
  
  
 });});
 [Y0,Y0+3*rh,Y1].forEach(y=>{
  const t=seg(g,773,y,781.5,y,'#222',1.4);
  
  
 });
 const a=txt(g,'A549',771.4,1058.6,{size:15,anchor:'end',fill:'#222'});
 
 
 const p=txt(g,'Parental',769.2,1191,{size:15,anchor:'middle',rot:90,len:57,fill:'#222'});
 
 
 const d=txt(g,'DDP-resistant',769.2,1439.5,{size:15,anchor:'middle',rot:90,len:97,fill:'#222'});
 
 
 gGenes.forEach((s,i)=>{
  const x=X0+(i+.5)*cw;
  const k=seg(g,x,Y1,x,Y1+5.3,'#333',1);
  
  
  const l=txt(g,s,x+2,Y1+12,{size:12.8,anchor:'end',rot:-45,fill:'#222'});
  
  
 });
 const sigX=[787.4,836.2,890.6,935.3,988.9,1046.6,1095.4,1143.8,1194];
 gSignificance.forEach((s,i)=>{
  if(s==='ns'){
   const t=txt(g,s,sigX[i],1616,{size:15,anchor:'middle',fill:'#222'});
   
   
  } else star(g,s,sigX[i],1612.9,14);
 });
 const bar=mk(g,'rect',{x:1281,y:1081.8,width:18.5,height:176.8,fill:'url(#gradG)'});
 
 
 [['7.78',1081],['10',1132],['12',1177.8],['14',1223],['15.5',1257]].forEach(e=>{
  const t=seg(g,1276.5,e[1],1281,e[1],'#444',1);
  
  
  const l=txt(g,e[0],1276,e[1],{size:14,anchor:'end',fill:'#222'});
  
  
 });
})();
</script>
</body>
</html>
